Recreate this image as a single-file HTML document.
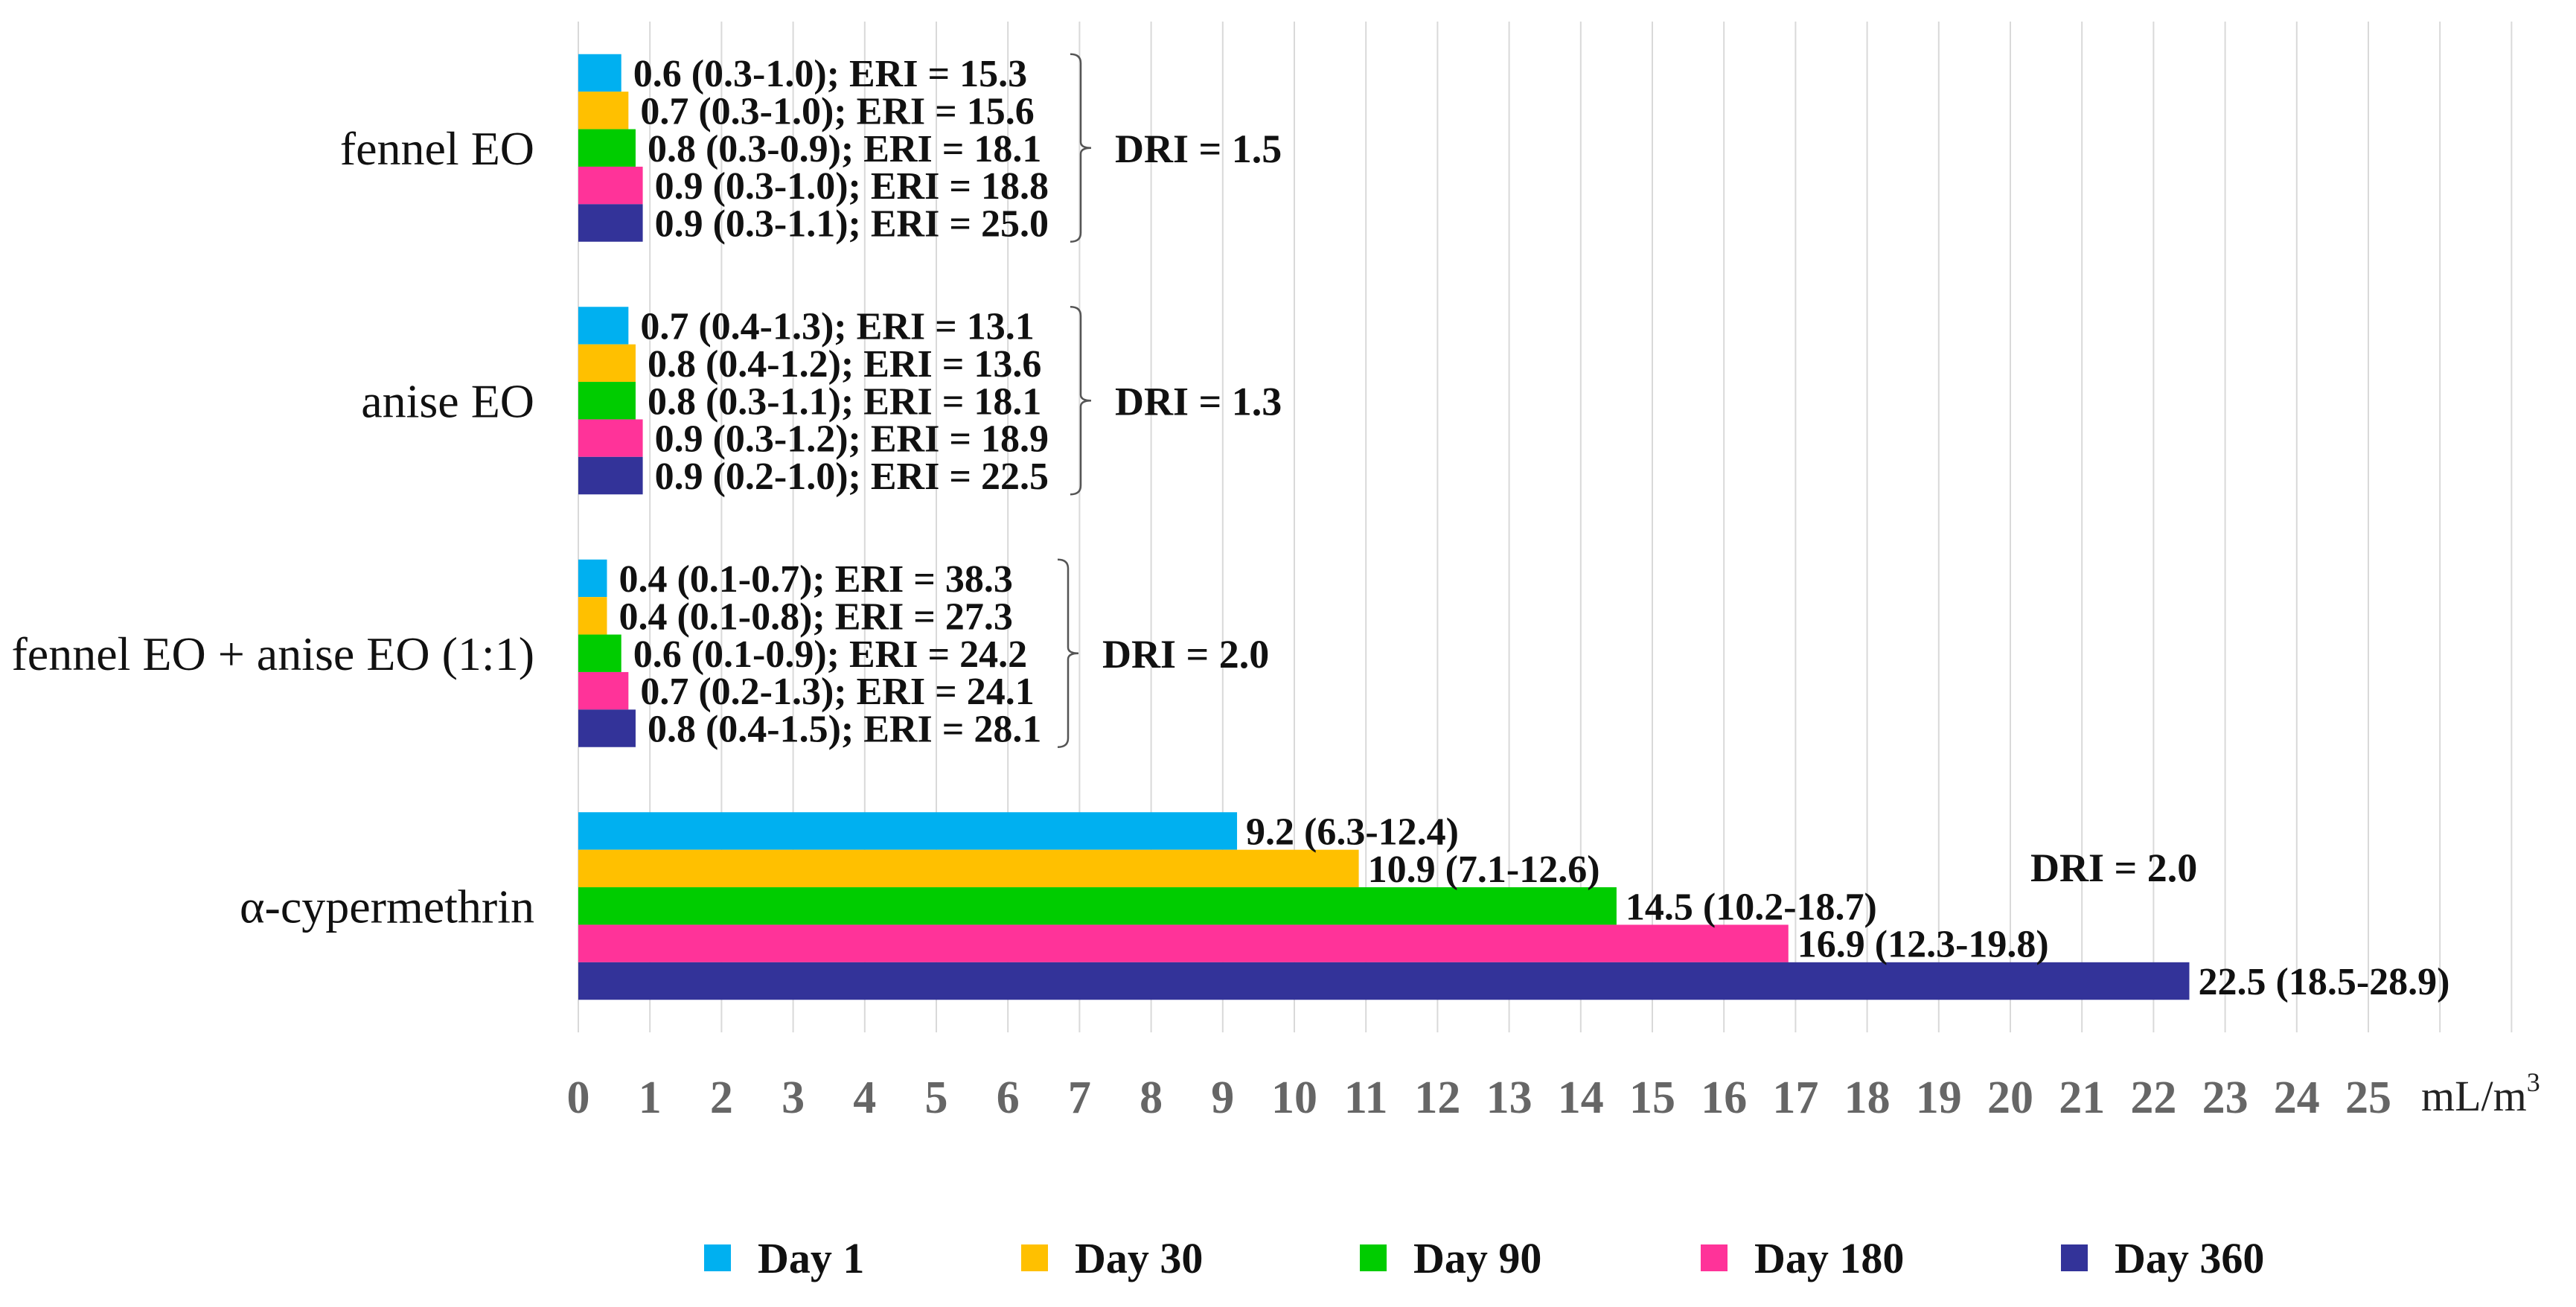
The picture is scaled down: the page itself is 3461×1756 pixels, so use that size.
<!DOCTYPE html>
<html><head><meta charset="utf-8"><style>
html,body{margin:0;padding:0;background:#fff}
svg{display:block}
text{font-family:"Liberation Serif",serif}
</style></head><body>
<svg id="chart" width="3461" height="1756" viewBox="0 0 3461 1756">
<g id="grid"></g>
<g id="bars"></g>
<g id="labels"></g>
<g id="cats"></g>
<g id="ticks"></g>
<g id="brackets"></g>
<g id="legend"></g>
<text x="3253" y="1492" font-size="58" fill="#222">mL/m<tspan dy="-26" font-size="36">3</tspan></text>
</svg>
<script>
const categories = ["fennel EO", "anise EO", "fennel EO + anise EO (1:1)", "α-cypermethrin"];
const seriesNames = ["Day 1", "Day 30", "Day 90", "Day 180", "Day 360"];
const day1 = [0.6, 0.7, 0.4, 9.2];
const day30 = [0.7, 0.8, 0.4, 10.9];
const day90 = [0.8, 0.8, 0.6, 14.5];
const day180 = [0.9, 0.9, 0.7, 16.9];
const day360 = [0.9, 0.9, 0.8, 22.5];
const labelsDay1 = ["0.6  (0.3-1.0); ERI = 15.3", "0.7 (0.4-1.3); ERI = 13.1", "0.4 (0.1-0.7); ERI = 38.3", "9.2 (6.3-12.4)"];
const labelsDay30 = ["0.7 (0.3-1.0); ERI = 15.6", "0.8 (0.4-1.2); ERI = 13.6", "0.4 (0.1-0.8); ERI = 27.3", "10.9 (7.1-12.6)"];
const labelsDay90 = ["0.8 (0.3-0.9); ERI = 18.1", "0.8 (0.3-1.1); ERI = 18.1", "0.6 (0.1-0.9); ERI = 24.2", "14.5 (10.2-18.7)"];
const labelsDay180 = ["0.9 (0.3-1.0); ERI = 18.8", "0.9 (0.3-1.2); ERI = 18.9", "0.7 (0.2-1.3); ERI = 24.1", "16.9 (12.3-19.8)"];
const labelsDay360 = ["0.9 (0.3-1.1); ERI = 25.0", "0.9 (0.2-1.0); ERI = 22.5", "0.8 (0.4-1.5); ERI = 28.1", "22.5 (18.5-28.9)"];
const driLabels = ["DRI = 1.5", "DRI = 1.3", "DRI = 2.0", "DRI = 2.0"];
const tickValues = [0,1,2,3,4,5,6,7,8,9,10,11,12,13,14,15,16,17,18,19,20,21,22,23,24,25];
const colors = ["#00B0F0", "#FFC000", "#00CC00", "#FF3399", "#333399"];

const NS = "http://www.w3.org/2000/svg";
const X0 = 777, UNIT = 96.2, TOP = 29, BOT = 1387;
const band = (BOT - TOP) / categories.length;
const barH = 50.4;
function xs(v){ return X0 + v * UNIT; }
function bandTop(i){ return TOP + i * band + (band - barH * 5) / 2; }
function mk(tag, attrs, parent){ const e = document.createElementNS(NS, tag); for (const k in attrs) e.setAttribute(k, attrs[k]); parent.appendChild(e); return e; }

const grid = document.getElementById('grid');
for (let v = 0; v <= 27; v++) {
  const l = mk('line', {x1: xs(v), x2: xs(v), y1: TOP, y2: BOT, stroke: '#d9d9d9', 'stroke-width': 2}, grid);
  
  
}
const ticks = document.getElementById('ticks');
tickValues.forEach(v => {
  const t = mk('text', {x: xs(v), y: 1495, 'font-size': 62, 'font-weight': 'bold', fill: '#666', 'text-anchor': 'middle'}, ticks);
  t.textContent = v;
  
  
});

const series = [day1, day30, day90, day180, day360];
const seriesLabels = [labelsDay1, labelsDay30, labelsDay90, labelsDay180, labelsDay360];
const bars = document.getElementById('bars'), labels = document.getElementById('labels');
categories.forEach((c, i) => {
  series.forEach((s, j) => {
    const y = bandTop(i) + j * barH;
    const r = mk('rect', {x: xs(0), y: y, width: xs(s[i]) - xs(0), height: barH, fill: colors[j]}, bars);
    
    
    const t = mk('text', {x: xs(s[i]) + (i === 3 ? 12 : 16), y: y + barH / 2 + 18, 'font-size': 52, 'font-weight': 'bold', fill: '#111'}, labels);
    t.textContent = seriesLabels[j][i];
    
    
  });
  const ct = mk('text', {x: 718, y: TOP + i * band + band / 2 + 22, 'font-size': 64, fill: '#111', 'text-anchor': 'end'}, document.getElementById('cats'));
  ct.textContent = c;
  
  
});

const br = document.getElementById('brackets');
const bx = [1452, 1452, 1435, null];
const dx = [1498, 1498, 1481, 2728];
driLabels.forEach((d, i) => {
  const top = bandTop(i), bot = top + barH * 5, mid = (top + bot) / 2;
  if (bx[i] !== null) {
    const x = bx[i];
    const p = mk('path', {d: `M${x-14},${top} Q${x},${top} ${x},${top+12} L${x},${mid-8} Q${x},${mid} ${x+14},${mid} Q${x},${mid} ${x},${mid+8} L${x},${bot-12} Q${x},${bot} ${x-14},${bot}`, fill: 'none', stroke: '#555', 'stroke-width': 2.5}, br);
    
    
  }
  const t = mk('text', {x: dx[i], y: (i === 3 ? 1165 : mid) + 19, 'font-size': 54, 'font-weight': 'bold', fill: '#111'}, br);
  t.textContent = d;
  
  
});

const lg = document.getElementById('legend');
const sqX = [946, 1372, 1827, 2285, 2769];
seriesNames.forEach((n, j) => {
  const g = mk('g', {}, lg);
  
  
  mk('rect', {x: sqX[j], y: 1672, width: 36, height: 36, fill: colors[j]}, g);
  const t = mk('text', {x: sqX[j] + 72, y: 1710, 'font-size': 58, 'font-weight': 'bold', fill: '#111'}, g);
  t.textContent = n;
});
</script>
</body></html>
